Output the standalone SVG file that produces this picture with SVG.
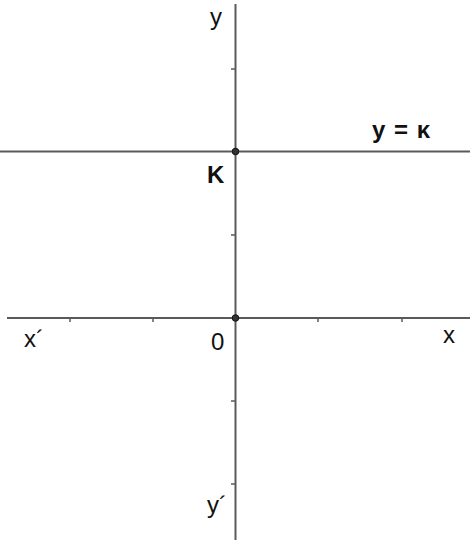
<svg xmlns="http://www.w3.org/2000/svg" width="470" height="540" viewBox="0 0 470 540">
<style>
.ax{stroke:#5a5a5a;stroke-width:2;fill:none}
.tk{stroke:#5a5a5a;stroke-width:1.5}
.pt{fill:#333;stroke:#111;stroke-width:1}
.lb{font-family:"Liberation Sans",Arial,sans-serif;font-size:24px;fill:#111}
</style>
<rect width="470" height="540" fill="#fff"/>
<g id="connectors">
<line class="ax" x1="7" y1="318" x2="470" y2="318"/>
<line class="ax" x1="235.5" y1="4" x2="235.5" y2="540"/>
<line class="ax" x1="0" y1="151.5" x2="470" y2="151.5"/>
<g class="tk">
<line x1="70" y1="318" x2="70" y2="322"/>
<line x1="153" y1="318" x2="153" y2="322"/>
<line x1="318" y1="318" x2="318" y2="322"/>
<line x1="402" y1="318" x2="402" y2="322"/>
<line x1="231" y1="69" x2="235" y2="69"/>
<line x1="231" y1="235" x2="235" y2="235"/>
<line x1="231" y1="401" x2="235" y2="401"/>
<line x1="231" y1="484" x2="235" y2="484"/>
</g>
</g>
<g id="pointK"><circle class="pt" cx="235.5" cy="151.5" r="3.3"/><text class="lb" x="207" y="183" font-size="29" font-weight="bold">Κ</text></g>
<g id="origin"><circle class="pt" cx="235.5" cy="318" r="3.3"/><text class="lb" x="211" y="350">0</text></g>
<g id="labels">
<text class="lb" x="210" y="25">y</text>
<text class="lb" x="24" y="347">x´</text>
<text class="lb" x="443" y="343">x</text>
<text class="lb" x="207" y="513">y´</text>
<text class="lb" x="372" y="138" font-weight="bold" font-size="22" word-spacing="2">y = κ</text>
</g>
</svg>
